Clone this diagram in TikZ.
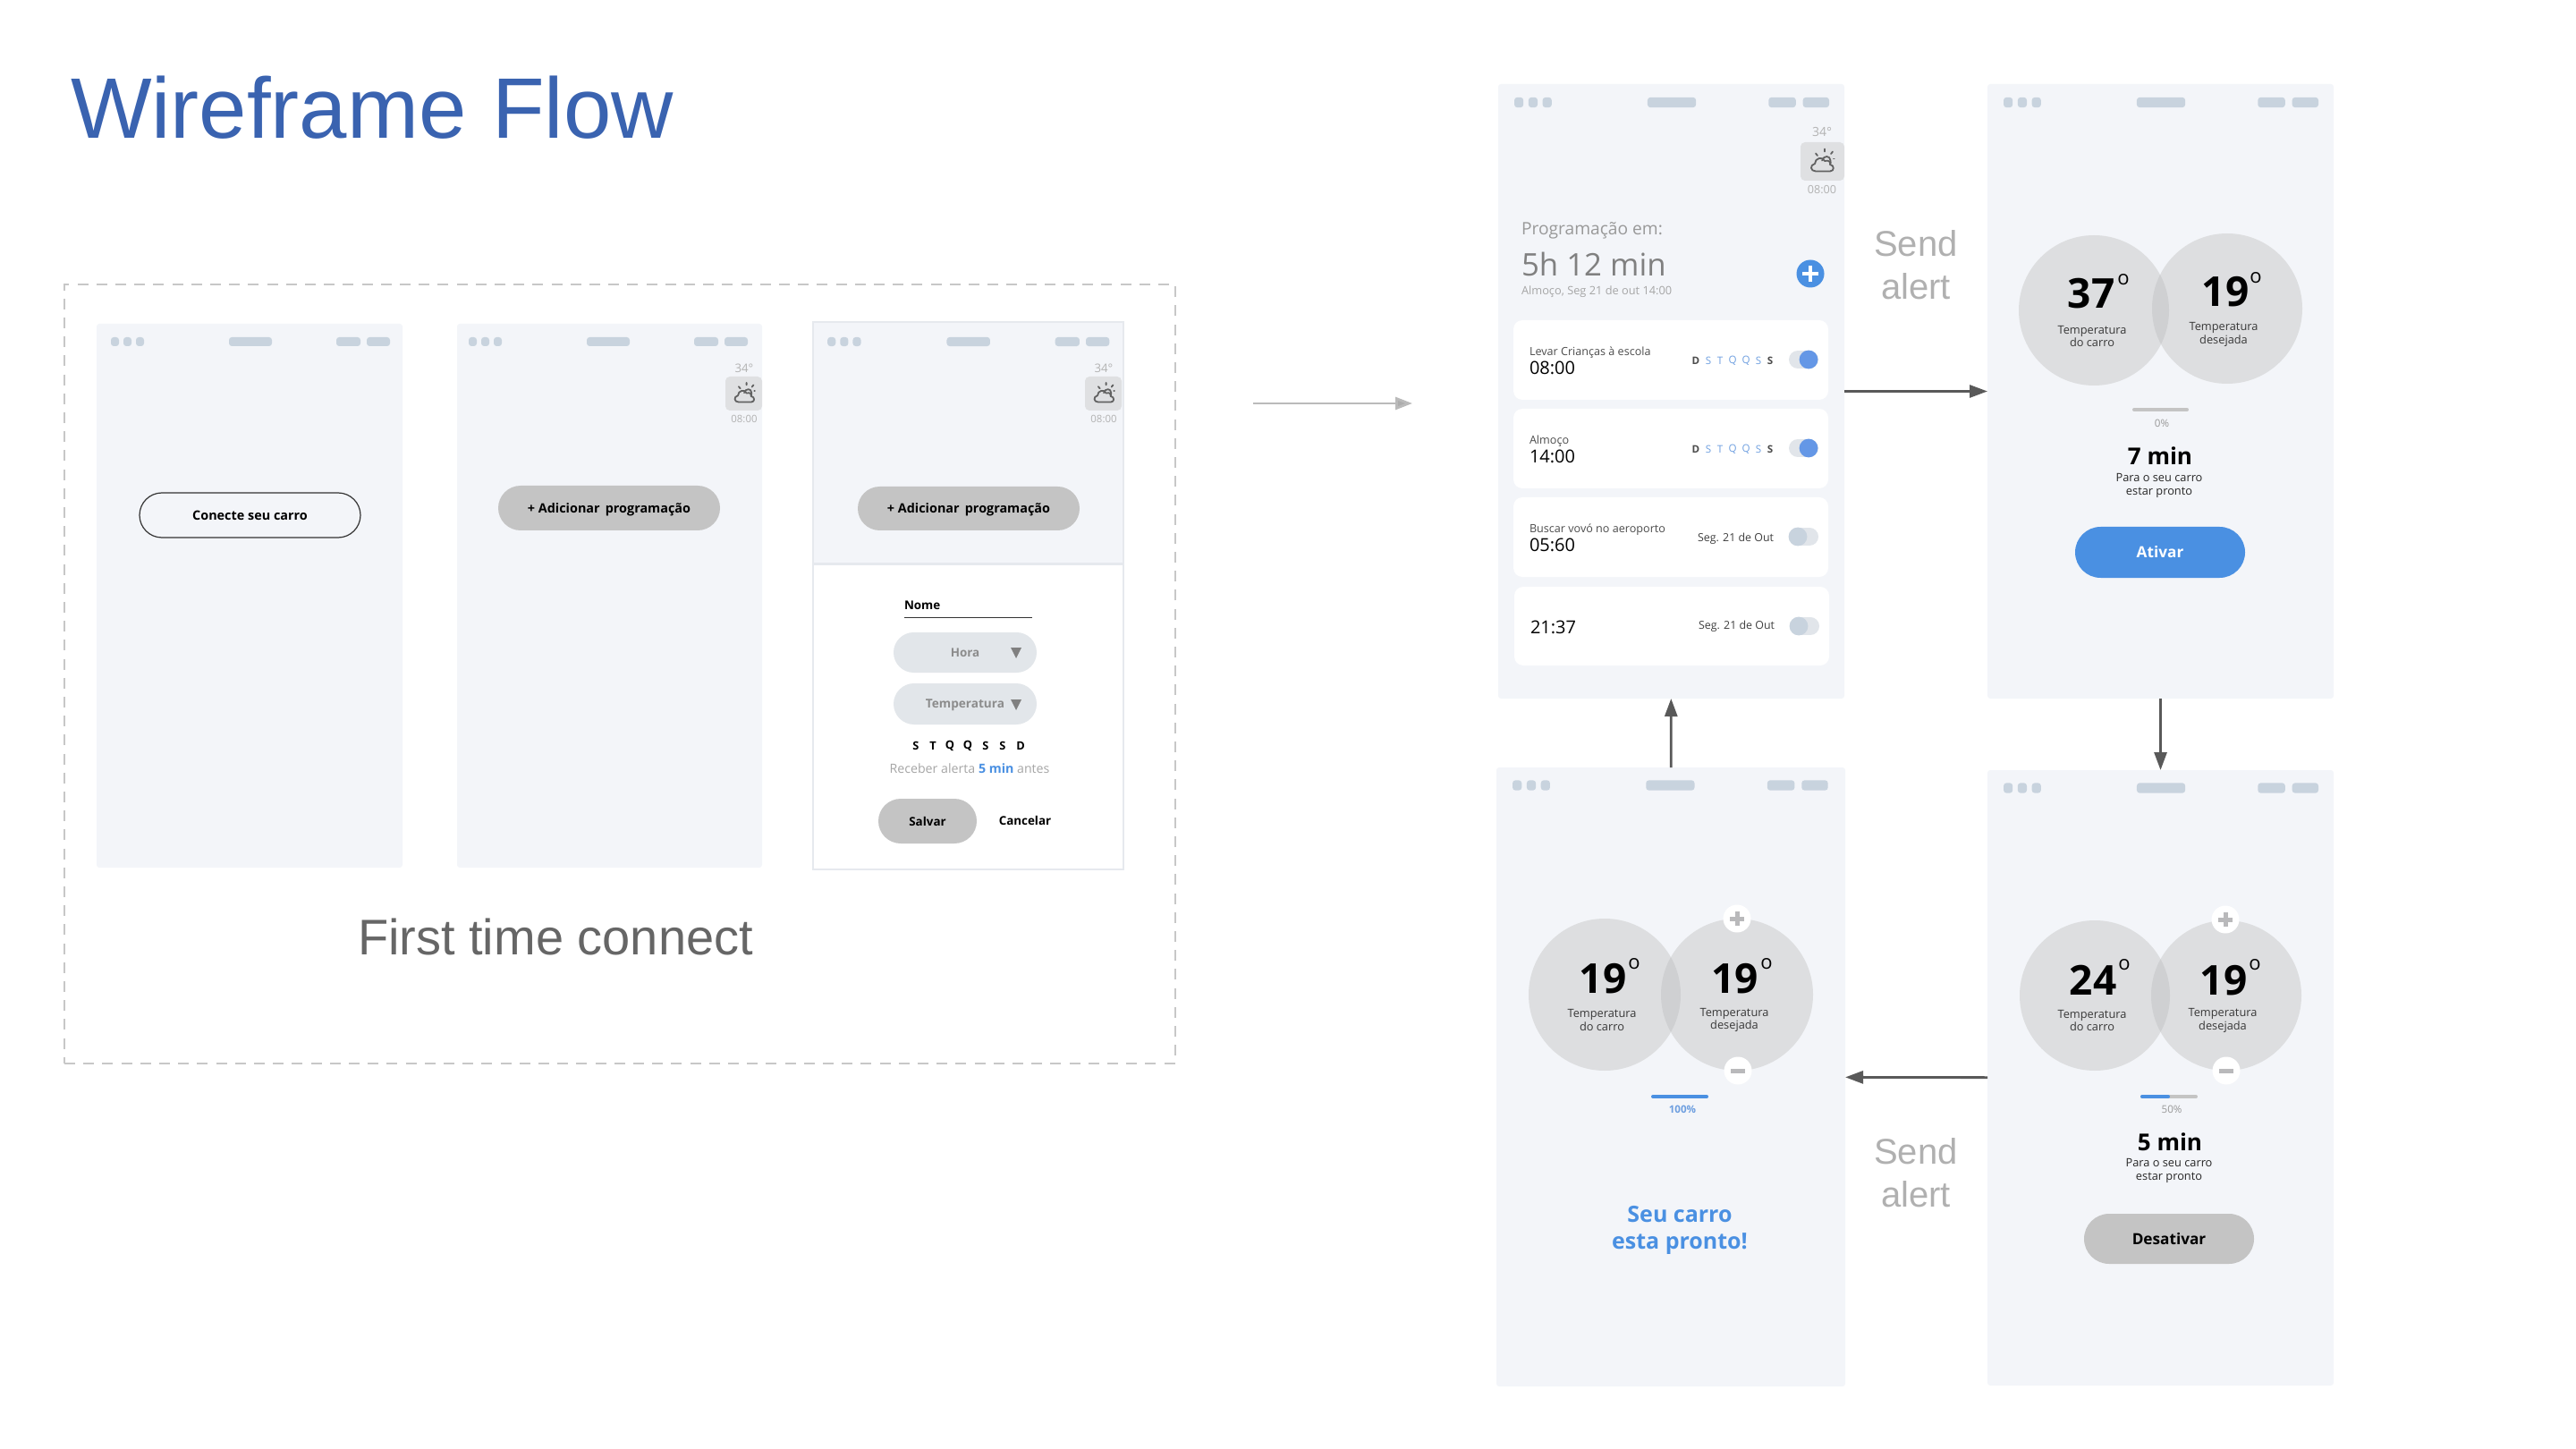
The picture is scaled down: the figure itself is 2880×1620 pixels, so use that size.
\documentclass[tikz,border=0pt]{standalone}
\usepackage{fontspec}
\setmainfont{Open Sans}
\newfontfamily\arl{Liberation Sans}
\usetikzlibrary{arrows.meta,shapes.misc}
\definecolor{scr}{HTML}{F3F5F9}
\definecolor{bar}{HTML}{C8D3DE}
\definecolor{wbox}{HTML}{DFE0E2}
\definecolor{dial}{HTML}{DDDEE0}
\definecolor{dialx}{HTML}{CFD0D2}
\definecolor{btn}{HTML}{C4C4C4}
\definecolor{blu}{HTML}{4A90E2}
\definecolor{lblu}{HTML}{6E9FE0}
\definecolor{ttl}{HTML}{3A63B0}
\definecolor{trk}{HTML}{E1E5EA}
\definecolor{knb}{HTML}{6497E6}
\definecolor{pillc}{HTML}{E2E6EA}
\definecolor{edgec}{HTML}{E6E9EE}
\newcommand\fsz[2]{\fontsize{#1}{#2}\selectfont}
\newcounter{tn}
\tikzset{
  txt/.style={inner sep=0pt,outer sep=0pt,align=center,text=black},
  screen/.style={rectangle,fill=scr,rounded corners=1.5pt},
  pillb/.style={rounded rectangle,rounded rectangle arc length=180,fill=btn},
  outl/.style={rounded rectangle,fill=scr,draw=black!80,line width=.6pt},
  card/.style={rectangle,fill=white,rounded corners=5pt},
  arr/.style={-{Triangle[length=10pt,width=7pt]},line width=1.4pt,draw=black!65},
  arrl/.style={-{Triangle[length=9.5pt,width=7pt,fill=black!32]},line width=1.4pt,draw=black!27},
  small/.style={font=\fsz{6.4}{7.4},text=black!78},
  daylt/.style={font=\fsz{5.8}{7}},
  bignum/.style={font=\fsz{23}{24}\bfseries,anchor=base},
  degr/.style={font=\fsz{11}{12}},
  sendl/.style={font=\arl\fsz{20}{26},text=black!31,anchor=base},
}
\newcommand\bx[7]{%
  \pgfmathsetmacro\bw{(#4-#2)*0.5}\pgfmathsetmacro\bh{(#5-#3)*0.5}%
  \node[#6,minimum width=\bw pt,minimum height=\bh pt,inner sep=0pt,outer sep=0pt] (#1) at ({(#2+#4)/2},{(#3+#5)/2}) {#7};}
\newcommand\tx[4][]{\stepcounter{tn}\node[txt,#1] (t\arabic{tn}) at (#2,#3) {#4};}
\newcommand\sbar[3]{%
  \foreach \a/\b in {16/25,30/39,44/53,148/196,268/295,302/328}{%
    \fill[bar,rounded corners=1.6pt] ({#1+\a*#3},{#2-5*#3}) rectangle ({#1+\b*#3},{#2+5*#3});}}
\newcommand\wicon[3]{%
  \begin{scope}[shift={(#1,#2)},scale=#3,draw=black!62,line width=.9pt,line cap=round,line join=round]
    \draw (0,-1) .. controls (2,-7) and (9,-7) .. (9.5,-1) .. controls (10,1) and (9.5,2) .. (9,3);
    \draw (-7,11) .. controls (-13,11) and (-14,4) .. (-8,2.5) .. controls (-8,-4) and (1,-6) .. (3,-0.5)
       .. controls (8,-2) and (10,1) .. (9,3.5) .. controls (14,4) and (14,11) .. (9,11) -- cycle;
    \draw (-7,-9) -- (-5,-6.5) (3,-14) -- (3,-11) (12,-11) -- (10,-8.5);
    \draw (13,-3) -- (13.6,-3);
  \end{scope}}
\newcommand\weather[6]{% cx, box x0, box x1, y offset base, icon scale, box height
  \fill[wbox,rounded corners=2.5pt] (#2,#4) -- (#3,#4) -- (#3,{#4+#6}) -- (#2,{#4+#6}) -- cycle;
  \wicon{#1}{{#4+#6/2}}{#5}}
\newcommand\tog[5]{% x0,x1,y,knob x, knob colour
  \draw[trk,line width=10pt,line cap=round] ({#1+10},#3) -- ({#2-10},#3);
  \fill[#5] (#4,#3) circle[radius=10.4];}
\newcommand\plusb[2]{%
  \fill[white] (#1,#2) circle[radius=15.5];
  \draw[dial!80!black!90,line width=2.5pt] ({#1-8},#2) -- ({#1+8},#2) (#1,{#2-8}) -- (#1,{#2+8});}
\newcommand\minusb[2]{%
  \fill[white] (#1,#2) circle[radius=15.5];
  \draw[dial!80!black!90,line width=2.5pt] ({#1-8},#2) -- ({#1+8},#2);}
\newcommand\pairdial[5]{% left cx, right cx, y left, y right, radius
  \fill[dial] (#1,#3) circle[radius=#5];
  \fill[dial] (#2,#4) circle[radius=#5];
  \begin{scope}
    \clip (#1,#3) circle[radius=#5];
    \fill[dialx] (#2,#4) circle[radius=#5];
  \end{scope}}
\begin{document}
\begin{tikzpicture}[x=0.5pt,y=-0.5pt]
\useasboundingbox (0,0) rectangle (2880,1620);
% title
\tx[anchor=base west,font=\arl\fsz{48}{50},text=ttl]{79}{155}{Wireframe\hspace{1pt} Flow}
% frame
\bx{frame}{72}{318}{1314}{1189}{rectangle,draw=black!22,line width=1.2pt,dash pattern=on 6pt off 4.6pt}{}
\tx[anchor=base,font=\arl\fsz{28}{30},text=black!60]{621}{1067}{First time connect}
% S1
\bx{s1}{108}{362}{450}{970}{screen}{}
\sbar{108}{382}{1}
\bx{b1}{156}{551}{403}{601}{outl}{\fsz{7.2}{9}\bfseries Conecte seu carro}
% S2
\bx{s2}{511}{362}{852}{970}{screen}{}
\sbar{508}{382}{1}
\tx[font=\fsz{6.6}{8},text=black!30]{832}{412}{34°}
\weather{832}{811}{852}{421}{.87}{38}
\tx[font=\fsz{5.7}{8},text=black!30]{832}{468}{08:00}
\bx{b2}{557}{543}{805}{593}{pillb}{}
\tx[font=\fsz{7.2}{9}\bfseries]{681}{570}{+ Adicionar\, programação}
% S3
\bx{s3}{909}{360}{1256}{972}{rectangle,fill=white,draw=edgec,line width=1.1pt}{}
\fill[scr] (910,361) rectangle (1255,630);
\draw[edgec,line width=1.4pt] (909,630.5) -- (1256,630.5);
\sbar{909}{382}{1.01}
\tx[font=\fsz{6.6}{8},text=black!30]{1234}{412}{34°}
\weather{1234}{1213}{1254}{421}{.87}{38}
\tx[font=\fsz{5.7}{8},text=black!30]{1234}{468}{08:00}
\bx{b3}{959}{544}{1207}{593}{pillb}{}
\tx[font=\fsz{7.2}{9}\bfseries]{1083}{570}{+ Adicionar\, programação}
\tx[anchor=base west,font=\fsz{6.7}{8}\bfseries]{1011}{681}{Nome}
\draw[black!80,line width=.5pt] (1011,690) -- (1154,690);
\bx{p1}{999}{707}{1159}{752}{rounded rectangle,fill=pillc}{}
\tx[font=\fsz{6.7}{8}\bfseries,text=black!45]{1079}{730}{Hora}
\fill[black!50] (1130,724) -- (1142,724) -- (1136,736) -- cycle;
\bx{p2}{999}{764}{1159}{810}{rounded rectangle,fill=pillc}{}
\tx[font=\fsz{6.8}{8}\bfseries,text=black!45]{1079}{788}{Temperatura}
\fill[black!50] (1130,782) -- (1142,782) -- (1136,794) -- cycle;
\foreach \x/\d in {1024/S,1043/T,1062/Q,1082/Q,1102/S,1121/S,1141/D}
  {\tx[font=\fsz{6.4}{8}\bfseries]{\x}{833.5}{\d}}
\tx[font=\fsz{7.1}{8},text=black!35]{1084}{859}{Receber alerta {\bfseries\color{blu}5 min} antes}
\bx{b4}{982}{893}{1092}{943}{pillb}{\fsz{6.7}{8}\bfseries Salvar}
\tx[font=\fsz{6.7}{8}\bfseries]{1146}{917}{Cancelar}
% arrow 1
\coordinate (a1s) at (1401,451);
\coordinate (a1e) at (1579,451);
\draw[arrl] (a1s) -- (a1e);
% S4
\bx{s4}{1675}{94}{2062}{781}{screen}{}
\sbar{1675}{114.5}{1.128}
\tx[font=\fsz{7}{8},text=black!30]{2037}{148}{34°}
\weather{2037}{2013}{2062}{159}{1}{43}
\tx[font=\fsz{6.3}{8},text=black!30]{2037}{212}{08:00}
\tx[anchor=base west,font=\fsz{9.6}{11},text=black!40]{1701}{263}{Programação em:}
\tx[anchor=base west,font=\fsz{17.4}{20},text=black!50]{1701}{308.5}{5h 12 min}
\tx[anchor=base west,font=\fsz{6.4}{8},text=black!35]{1701}{329.5}{Almoço, Seg 21 de out 14:00}
\fill[blu] (2024,306) circle[radius=15.5];
\draw[white,line width=2pt] (2015,306) -- (2033,306) (2024,297) -- (2024,315);
\bx{c1}{1692}{358}{2044}{447}{card}{}
\bx{c2}{1692}{457}{2044}{546}{card}{}
\bx{c3}{1692}{556}{2044}{645}{card}{}
\bx{c4}{1693}{656}{2045}{744}{card}{}
\tx[anchor=base west,font=\fsz{6.3}{8},text=black!70]{1710}{397.5}{Levar Crianças à escola}
\tx[anchor=base west,font=\fsz{10}{12}]{1710}{419}{08:00}
\tx[anchor=base west,font=\fsz{6.3}{8},text=black!70]{1710}{496.5}{Almoço}
\tx[anchor=base west,font=\fsz{10}{12}]{1710}{518}{14:00}
\tx[anchor=base west,font=\fsz{6.3}{8},text=black!70]{1710}{595.5}{Buscar vovó no aeroporto}
\tx[anchor=base west,font=\fsz{10}{12}]{1710}{617}{05:60}
\tx[anchor=base west,font=\fsz{10}{12}]{1711}{708}{21:37}
\foreach \yy in {403,502}{%
  \tx[daylt,font=\fsz{5.8}{7}\bfseries,text=black!70]{1896}{\yy}{D}
  \foreach \x/\d in {1910/S,1923/T,1937/Q,1952/Q,1966/S}
    {\tx[daylt,text=lblu]{\x}{\yy}{\d}}
  \tx[daylt,font=\fsz{5.8}{7}\bfseries,text=black!70]{1979}{\yy}{S}
}
\tog{2000}{2033}{402}{2022}{knb}
\tog{2000}{2033}{501}{2022}{knb}
\tx[anchor=east,font=\fsz{6.2}{8},text=black!75]{1983}{602}{Seg. 21 de Out}
\tx[anchor=east,font=\fsz{6.2}{8},text=black!75]{1984}{700}{Seg. 21 de Out}
\tog{2000}{2033}{600}{2010}{bar}
\tog{2001}{2034}{700}{2011}{bar}
% S5
\bx{s5}{2222}{94}{2609}{781}{screen}{}
\sbar{2222}{114.5}{1.128}
\pairdial{2341}{2490}{347}{345}{84}
\tx[bignum]{2338}{345}{37}
\tx[degr]{2374}{313}{o}
\tx[small]{2339}{376}{Temperatura\\do carro}
\tx[bignum]{2488}{343}{19}
\tx[degr]{2522}{311}{o}
\tx[small]{2486}{374}{Temperatura\\desejada}
\draw[btn,line width=2pt,line cap=round] (2386,458) -- (2445,458);
\tx[font=\fsz{5.8}{7},text=black!40]{2417}{473}{0\%}
\tx[anchor=base,font=\fsz{13}{16}\bfseries]{2415}{519.5}{7 min}
\tx[small,text=black!85]{2414}{543}{Para o seu carro\\estar pronto}
\bx{b5}{2320}{589}{2510}{646}{pillb,fill=blu,text=white}{\fsz{8.6}{10}\bfseries Ativar}
% S6
\bx{s6}{2222}{861}{2609}{1549}{screen}{}
\sbar{2222}{881}{1.128}
\pairdial{2342}{2489}{1113}{1113}{84}
\plusb{2488}{1028}
\minusb{2489}{1197}
\tx[bignum]{2340}{1112}{24}
\tx[degr]{2375}{1079}{o}
\tx[small]{2339}{1141}{Temperatura\\do carro}
\tx[bignum]{2486}{1112}{19}
\tx[degr]{2521}{1079}{o}
\tx[small]{2485}{1141}{Temperatura\\desejada}
\draw[btn,line width=2pt,line cap=round] (2395,1226) -- (2455,1226);
\draw[blu,line width=2pt,line cap=round] (2395,1226) -- (2424,1226);
\tx[font=\fsz{5.8}{7},text=black!40]{2428}{1240}{50\%}
\tx[anchor=base,font=\fsz{13}{16}\bfseries]{2426}{1286.5}{5 min}
\tx[small,text=black!85]{2425}{1309}{Para o seu carro\\estar pronto}
\bx{b6}{2330}{1357}{2520}{1413}{pillb}{\fsz{8.6}{10}\bfseries Desativar}
% S7
\bx{s7}{1673}{858}{2063}{1550}{screen}{}
\sbar{1673}{878}{1.13}
\pairdial{1794}{1942}{1112}{1112}{85}
\plusb{1942}{1027}
\minusb{1943}{1197}
\tx[bignum]{1792}{1110}{19}
\tx[degr]{1827}{1078}{o}
\tx[small]{1791}{1140.5}{Temperatura\\do carro}
\tx[bignum]{1939.5}{1110}{19}
\tx[degr]{1975}{1078}{o}
\tx[small]{1939}{1140.5}{Temperatura\\desejada}
\draw[blu,line width=2pt,line cap=round] (1848,1226) -- (1908,1226);
\tx[font=\fsz{5.8}{7}\bfseries,text=lblu]{1881}{1240}{100\%}
\tx[font=\fsz{12.5}{15}\bfseries,text=blu]{1878}{1375}{Seu carro\\esta pronto!}
% send alert labels
\tx[sendl]{2142}{287}{Send}
\tx[sendl]{2142}{335}{alert}
\tx[sendl]{2142}{1301}{Send}
\tx[sendl]{2142}{1349}{alert}
% connectors
\draw[arr] (s4) -- (s5);
\draw[arr] (s5) -- (s6);
\draw[arr] (s6) -- (s7);
\draw[arr] (s7) -- (s4);
\end{tikzpicture}
\end{document}
